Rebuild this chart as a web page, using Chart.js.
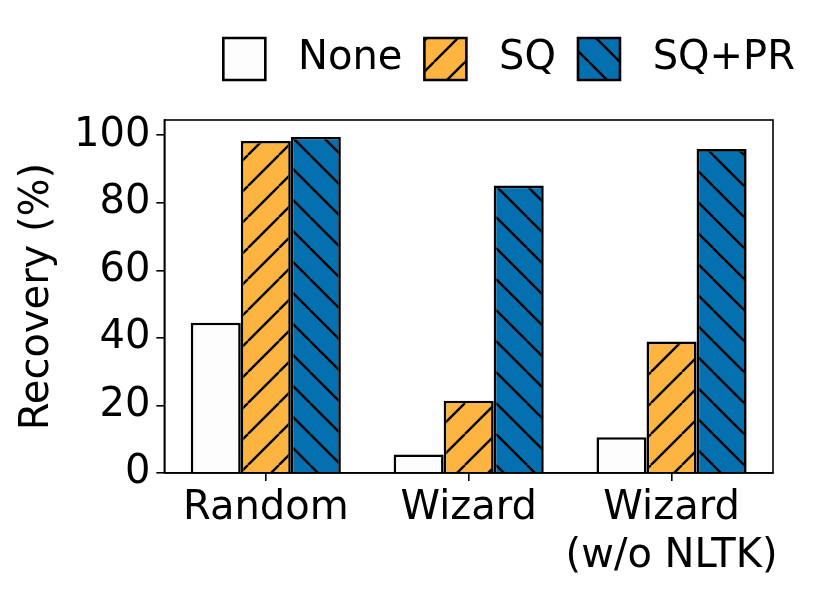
<!DOCTYPE html>
<html>
<head>
<meta charset="utf-8">
<script src="https://cdn.jsdelivr.net/npm/chart.js@4/dist/chart.umd.min.js"></script>
<style>
  html, body { margin: 0; padding: 0; background: #fff; }
  #wrap { width: 831px; height: 596px; }
</style>
</head>
<body>
<div id="wrap"><canvas id="recoveryChart" width="831" height="596"></canvas></div>
<script>
var categories = ['Random', 'Wizard', ['Wizard', '(w/o NLTK)']];
var seriesLabels = ['None', 'SQ', 'SQ+PR'];
var noneValues = [44.5, 5.5, 10.6];
var sqValues = [98.3, 21.4, 38.9];
var sqprValues = [99.5, 85.1, 95.9];
var yTicks = [0, 20, 40, 60, 80, 100];

var FONT = "'DejaVu Sans', sans-serif";

// hatch tile, '/' or '\'
function hatch(color, dir) {
    var size = 31;
    var c = document.createElement('canvas');
    c.width = size;
    c.height = size;
    var g = c.getContext('2d');
    g.fillStyle = color;
    g.fillRect(0, 0, size, size);
    g.strokeStyle = '#000';
    g.lineWidth = 2.4;
    g.beginPath();
    [-size, 0, size].forEach(function (k) {
        if (dir === '/') {
            g.moveTo(k, size);
            g.lineTo(k + size, 0);
        } else {
            g.moveTo(k, 0);
            g.lineTo(k + size, size);
        }
    });
    g.stroke();
    return g.createPattern(c, 'repeat');
}

var frame = {
    id: 'frame',
    afterDatasetsDraw: function (chart) {
        var a = chart.chartArea, ctx = chart.ctx;
        ctx.save();
        ctx.strokeStyle = '#000';
        ctx.lineWidth = 1.6;
        ctx.strokeRect(a.left, a.top, a.right - a.left, a.bottom - a.top);
        ctx.restore();
    }
};

var legendGap = {
    id: 'legendGap',
    beforeInit: function (chart) {
        var fit = chart.legend.fit;
        chart.legend.fit = function () {
            fit.bind(chart.legend)();
            this.height += 30;
        };
    }
};

var ctx = document.getElementById('recoveryChart').getContext('2d');
var myChart = new Chart(ctx, {
    type: 'bar',
    data: {
        labels: categories,
        datasets: [
            {
                label: seriesLabels[0],
                data: noneValues,
                backgroundColor: '#fdfdfd',
                borderColor: '#000',
                borderWidth: 2.6
            },
            {
                label: seriesLabels[1],
                data: sqValues,
                backgroundColor: hatch('#fdb441', '/'),
                borderColor: '#000',
                borderWidth: 2.6
            },
            {
                label: seriesLabels[2],
                data: sqprValues,
                backgroundColor: hatch('#0570b0', '\\'),
                borderColor: '#000',
                borderWidth: 2.6
            }
        ]
    },
    options: {
        responsive: false,
        animation: false,
        devicePixelRatio: 1,
        layout: {
            padding: { top: 16, left: 14, right: 14, bottom: 11 }
        },
        datasets: {
            bar: {
                categoryPercentage: 0.74,
                barPercentage: 1.0
            }
        },
        plugins: {
            legend: {
                position: 'top',
                align: 'end',
                labels: {
                    boxWidth: 42,
                    boxHeight: 42,
                    padding: 22,
                    color: '#000',
                    font: { family: FONT, size: 40 },
                    generateLabels: function (chart) {
                        var items = Chart.defaults.plugins.legend.labels.generateLabels(chart);
                        items.forEach(function (it) { it.text = ' ' + it.text; it.lineWidth = 2.6; });
                        return items;
                    }
                },
                onClick: null
            },
            tooltip: { enabled: false }
        },
        scales: {
            x: {
                offset: true,
                grid: {
                    offset: false,
                    drawOnChartArea: false,
                    drawTicks: true,
                    tickLength: 8,
                    color: '#000',
                    lineWidth: 1.6
                },
                border: { display: true, color: '#000', width: 1.6 },
                ticks: {
                    color: '#000',
                    font: { family: FONT, size: 40 },
                    maxRotation: 0,
                    autoSkip: false,
                    padding: 4
                }
            },
            y: {
                min: 0,
                max: 104.5,
                grid: {
                    drawOnChartArea: false,
                    drawTicks: true,
                    tickLength: 8,
                    color: '#000',
                    lineWidth: 1.6
                },
                border: { display: true, color: '#000', width: 1.6 },
                afterBuildTicks: function (scale) {
                    scale.ticks = yTicks.map(function (v) { return { value: v }; });
                },
                ticks: {
                    color: '#000',
                    font: { family: FONT, size: 40 },
                    padding: 6
                },
                title: {
                    display: true,
                    text: 'Recovery (%)',
                    color: '#000',
                    font: { family: FONT, size: 40 },
                    padding: { top: 0, bottom: 6 }
                }
            },
            yRight: {
                position: 'right',
                display: true,
                grid: { display: false },
                border: { display: false },
                ticks: { display: false },
                afterFit: function (scale) { scale.width = 44; }
            }
        }
    },
    plugins: [frame, legendGap]
});
</script>
</body>
</html>
